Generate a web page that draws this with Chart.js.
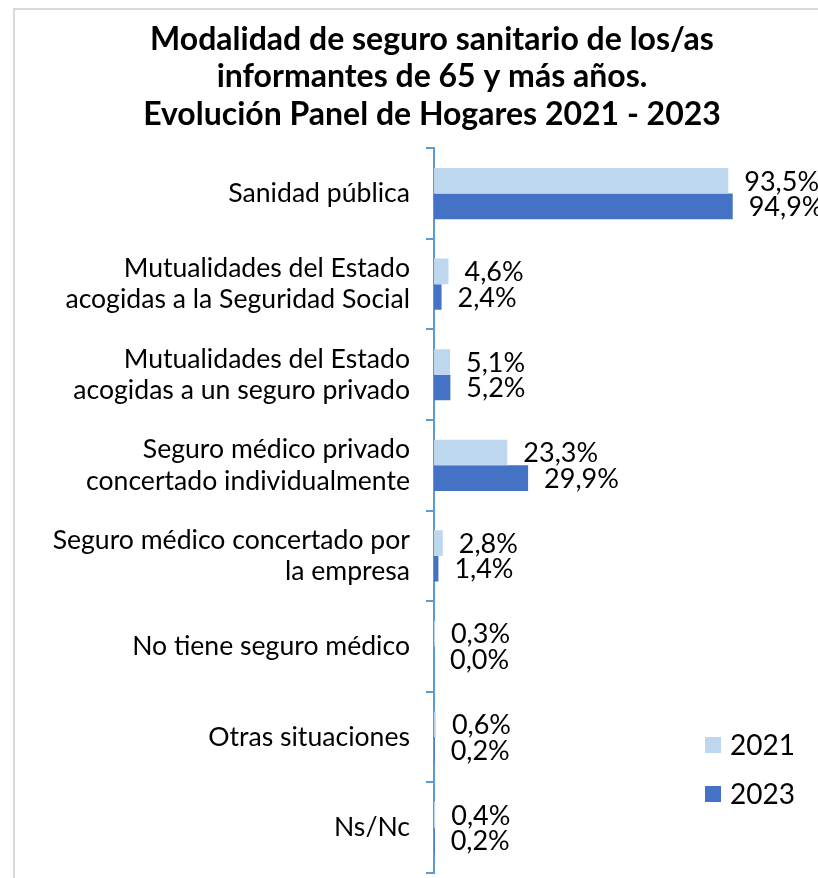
<!DOCTYPE html>
<html>
<head>
    <title>Modalidad de seguro sanitario</title>
    <script src="https://cdn.jsdelivr.net/npm/chart.js"></script>
    <style>
        body { margin: 0; background: #ffffff; }
        .wrap { position: relative; width: 818px; height: 878px; }
    </style>
</head>
<body>
<div class="wrap"><canvas id="seguroChart"></canvas></div>
<script>
// Categorías (etiquetas del eje)
const categorias = [
    'Sanidad pública',
    ['Mutualidades del Estado', 'acogidas a la Seguridad Social'],
    ['Mutualidades del Estado', 'acogidas a un seguro privado'],
    ['Seguro médico privado', 'concertado individualmente'],
    ['Seguro médico concertado por', 'la empresa'],
    'No tiene seguro médico',
    'Otras situaciones',
    'Ns/Nc'
];
const anios = ['2021', '2023'];
const valores2021 = [93.5, 4.6, 5.1, 23.3, 2.8, 0.3, 0.6, 0.4];
const valores2023 = [94.9, 2.4, 5.2, 29.9, 1.4, 0.0, 0.2, 0.2];
const colores = ['#BDD7EE', '#4472C4'];

const fmt = v => v.toFixed(1).replace('.', ',') + '%';

// Marco gris del gráfico
const marco = {
    id: 'marco',
    beforeDraw(chart) {
        const ctx = chart.ctx;
        ctx.save();
        ctx.strokeStyle = '#D9D9D9';
        ctx.lineWidth = 2;
        ctx.strokeRect(14, 9, chart.width + 50, chart.height + 50);
        ctx.restore();
    }
};

// Etiquetas de valor a la derecha de cada barra
const etiquetas = {
    id: 'etiquetas',
    afterDatasetsDraw(chart) {
        const ctx = chart.ctx;
        ctx.save();
        ctx.font = '27px Lato';
        ctx.fillStyle = '#000';
        ctx.textAlign = 'left';
        ctx.textBaseline = 'middle';
        chart.data.datasets.forEach((ds, i) => {
            chart.getDatasetMeta(i).data.forEach((bar, j) => {
                ctx.fillText(fmt(ds.data[j]), bar.x + 16, bar.y + 1);
            });
        });
        ctx.restore();
    }
};

// Leyenda abajo a la derecha, dentro del área
const leyenda = {
    id: 'leyenda',
    afterDraw(chart) {
        const ctx = chart.ctx;
        const x = chart.chartArea.right - 113;
        let y = 745;
        ctx.save();
        ctx.font = '28px Lato';
        ctx.textBaseline = 'middle';
        chart.data.datasets.forEach(ds => {
            ctx.fillStyle = ds.backgroundColor;
            ctx.fillRect(x, y - 8, 16, 16);
            ctx.fillStyle = '#000';
            ctx.fillText(ds.label, x + 25, y + 1);
            y += 49;
        });
        ctx.restore();
    }
};

new Chart(document.getElementById('seguroChart'), {
    type: 'bar',
    data: {
        labels: categorias,
        datasets: [
            { label: anios[0], data: valores2021, backgroundColor: colores[0] },
            { label: anios[1], data: valores2023, backgroundColor: colores[1] }
        ]
    },
    options: {
        indexAxis: 'y',
        responsive: true,
        maintainAspectRatio: false,
        animation: false,
        layout: { padding: { top: 8, left: 46, right: 0, bottom: 5 } },
        datasets: { bar: { categoryPercentage: 0.565, barPercentage: 1.0 } },
        plugins: {
            legend: { display: false },
            tooltip: { enabled: false },
            title: {
                display: true,
                text: ['Modalidad de seguro sanitario de los/as', 'informantes de 65 y más años.', 'Evolución Panel de Hogares 2021 - 2023'],
                color: '#000',
                font: { family: 'Lato', size: 32, weight: 'bold', lineHeight: 1.17 },
                padding: { top: 13, bottom: 15 }
            }
        },
        scales: {
            x: { display: false, min: 0, max: 122 },
            y: {
                afterFit: scale => {
                    scale.width = 388;
                    scale.paddingTop = 0;
                    scale.paddingBottom = 0;
                },
                grid: { drawOnChartArea: false, drawTicks: true, tickLength: 8, color: '#5B9BD5', lineWidth: 2, offset: true },
                border: { color: '#5B9BD5', width: 2 },
                ticks: {
                    autoSkip: false,
                    padding: 16,
                    color: '#000',
                    font: { family: 'Lato', size: 26.6, lineHeight: 1.18 }
                }
            }
        }
    },
    plugins: [marco, etiquetas, leyenda]
});
</script>
</body>
</html>
